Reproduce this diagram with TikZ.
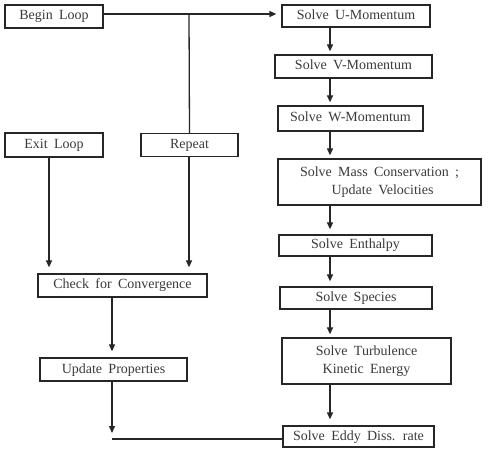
\documentclass[tikz,border=0pt]{standalone}
\usepackage{fontspec}
\setmainfont{Liberation Serif}[WordSpace={1.8,1,1}]
\usetikzlibrary{arrows.meta}
\definecolor{ink}{HTML}{262626}
\definecolor{txt}{HTML}{3a3a3a}
\tikzset{
  box/.style={draw=ink, line width=1.3pt, rectangle, inner sep=0pt,
    text=txt, font=\fontsize{14}{18}\selectfont, text height=0.9em, text depth=0.2em},
  box2/.style={draw=ink, line width=1.3pt, rectangle, inner sep=0pt, align=center,
    text=txt, font=\fontsize{14}{18}\selectfont},
  conn/.style={draw=ink, line width=1.3pt},
  arr/.style={conn, -{Triangle[length=7pt,width=6pt]}, shorten >=3pt},
}
\begin{document}
\begin{tikzpicture}[x=1pt,y=-1pt]
\useasboundingbox (0,0) rectangle (490,454);
% left column
\node[box, minimum width=98pt, minimum height=23pt] (begin) at (54,16.5) {Begin Loop};
\node[box, minimum width=98pt, minimum height=24pt] (exit) at (54,145) {Exit Loop};
\node[box, minimum width=97pt, minimum height=23pt] (repeat) at (189.5,145) {Repeat};
\node[box, minimum width=169pt, minimum height=23pt] (check) at (122.5,285.5) {Check for Convergence};
\node[box, minimum width=147pt, minimum height=23pt] (update) at (113.5,369.5) {Update Properties};
% right column
\node[box, minimum width=148pt, minimum height=22pt] (u) at (356,16) {Solve U-Momentum};
\node[box, minimum width=157pt, minimum height=23pt] (v) at (353.5,66.5) {Solve V-Momentum};
\node[box, minimum width=145pt, minimum height=25pt] (w) at (350.5,118.5) {Solve W-Momentum};
\node[box2, minimum width=203pt, minimum height=46pt] (mass) at (379.5,182) {Solve Mass Conservation ;\\ \hspace*{6pt}Update Velocities};
\node[box, minimum width=153pt, minimum height=21pt] (enth) at (355.5,245.5) {Solve Enthalpy};
\node[box, minimum width=152pt, minimum height=22pt] (spec) at (356,298) {Solve Species};
\node[box2, minimum width=169pt, minimum height=46pt] (turb) at (366.5,361) {Solve Turbulence\\Kinetic Energy};
\node[box, minimum width=151pt, minimum height=21pt] (eddy) at (358.5,436.5) {Solve Eddy Diss. rate};
% helper coordinates
\coordinate (ax) at (330,0);
\coordinate (j) at (189,14);
\coordinate (exitx) at (49,0);
\coordinate (chkx) at (112,0);
\coordinate (c) at (112,439);
% top loop line
\draw[arr, shorten >=5pt] (begin.east |- j) -- (j -| u.west);
\draw[conn] (j) -- (repeat.north);
% into check
\draw[arr, shorten >=6pt] (exit.south -| exitx) -- (check.north -| exitx);
\draw[arr, shorten >=6pt] (repeat.south -| j) -- (check.north -| j);
\draw[arr, shorten >=6pt] (check.south -| chkx) -- (update.north -| chkx);
\draw[arr, shorten >=6pt] (update.south -| c) -- (c);
\draw[conn] (c) -- (c -| eddy.west);
% right chain
\draw[arr] (u.south -| ax) -- (v.north -| ax);
\draw[arr] (v.south -| ax) -- (w.north -| ax);
\draw[arr] (w.south -| ax) -- (mass.north -| ax);
\draw[arr, shorten >=5pt] (mass.south -| ax) -- (enth.north -| ax);
\draw[arr, shorten >=5pt] (enth.south -| ax) -- (spec.north -| ax);
\draw[arr] (spec.south -| ax) -- (turb.north -| ax);
\draw[arr, shorten >=6pt] (turb.south -| ax) -- (eddy.north -| ax);
\end{tikzpicture}
\end{document}
